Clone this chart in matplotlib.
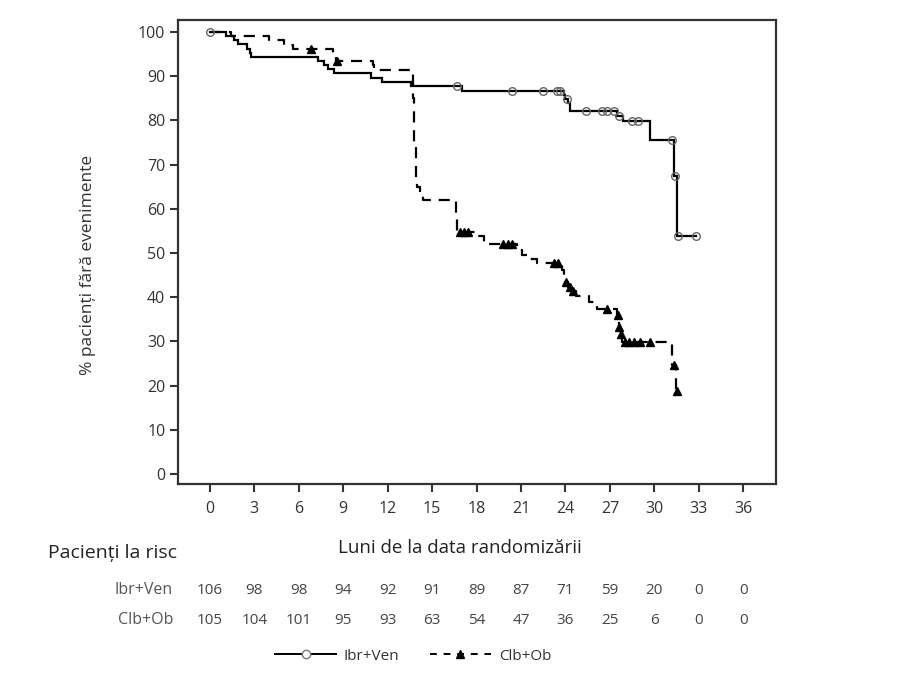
import numpy as np
import matplotlib.pyplot as plt
from matplotlib.lines import Line2D
from matplotlib.transforms import blended_transform_factory

plt.rcParams['font.family'] = ['Open Sans', 'DejaVu Sans']

# Ibr+Ven: event times (months) and survival (%) after each step
ibr_times = [0, 1.1, 1.6, 1.9, 2.5, 2.7, 2.8, 7.3, 7.7, 8.0, 8.4, 10.9, 11.6,
             13.6, 17.0, 23.9, 24.0, 24.2, 24.3, 27.5, 27.9, 29.7, 31.3, 31.5]
ibr_surv = [100, 99.1, 98.1, 97.2, 96.2, 95.3, 94.3, 93.4, 92.5, 91.5, 90.6, 89.6, 88.7,
            87.7, 86.7, 85.8, 84.8, 83.8, 82.0, 81.0, 79.8, 75.6, 67.3, 53.8]
ibr_end = 32.8
ibr_censor = [0, 16.7, 20.4, 22.5, 23.4, 23.6, 24.1, 25.4, 26.5, 26.8, 27.3, 27.6,
              28.5, 28.9, 31.2, 31.4, 31.6, 32.8]

# Clb+Ob
clb_times = [0, 1.4, 4.0, 5.0, 5.6, 8.3, 8.4, 8.5, 11.0, 11.1, 13.7, 13.8, 13.9,
             14.0, 14.2, 14.4, 16.6, 16.7, 18.1, 18.5, 20.7, 21.1, 21.6, 22.1, 23.8,
             23.9, 24.0, 24.2, 24.4, 24.7, 25.6, 26.1, 27.5, 27.55, 27.6, 27.7, 27.8,
             31.2, 31.45]
clb_surv = [100, 99.0, 98.1, 97.1, 96.2, 95.2, 94.3, 93.3, 92.4, 91.4, 85.0, 75.0, 67.0,
            65.0, 63.1, 62.0, 58.0, 54.8, 53.8, 52.0, 50.6, 49.6, 48.7, 47.7, 46.2,
            44.6, 43.5, 42.4, 41.4, 40.2, 39.0, 37.3, 36.0, 34.6, 33.2, 31.6, 29.9,
            24.7, 18.9]
clb_end = 31.5
clb_censor = [6.8, 8.6, 16.9, 17.15, 17.4, 19.8, 20.1, 20.4, 23.2, 23.5, 24.05, 24.3,
              24.5, 26.8, 27.52, 27.62, 27.72, 28.0, 28.3, 28.6, 29.0, 29.7, 31.3, 31.5]

months = [0, 3, 6, 9, 12, 15, 18, 21, 24, 27, 30, 33, 36]
risk_ibr = [106, 98, 98, 94, 92, 91, 89, 87, 71, 59, 20, 0, 0]
risk_clb = [105, 104, 101, 95, 93, 63, 54, 47, 36, 25, 6, 0, 0]


def surv_at(times, surv, t):
    idx = np.searchsorted(times, t, side='right') - 1
    return np.array(surv)[idx]


fig = plt.figure(figsize=(8.98, 6.85), dpi=100)
ax = fig.add_axes([0.198, 0.293, 0.666, 0.678])

# step curves
ax.step(ibr_times + [ibr_end], ibr_surv + [ibr_surv[-1]], where='post',
        color='black', lw=1.6, solid_joinstyle='miter')
ax.step(clb_times + [clb_end], clb_surv + [clb_surv[-1]], where='post',
        color='black', lw=1.6, linestyle=(0, (5, 3.5)))

# censor marks
ax.plot(ibr_censor, surv_at(ibr_times, ibr_surv, ibr_censor), 'o', ms=5.5,
        mfc='none', mec='#666666', mew=1.0)
ax.plot(clb_censor, surv_at(clb_times, clb_surv, clb_censor), '^', ms=5.5,
        color='black')

ax.set_xlim(-2.16, 38.2)
ax.set_ylim(-2.3, 102.7)
ax.set_xticks(months)
ax.set_yticks(range(0, 101, 10))
ax.tick_params(direction='out', length=6, width=1.5, colors='#333333',
               labelsize=11.5, pad=3)
ax.tick_params(axis='x', pad=6)
for sp in ax.spines.values():
    sp.set_linewidth(1.6)
    sp.set_color('#333333')

fig.text(88 / 898, 1 - 265 / 685, '% pacienți fără evenimente', rotation=90,
         ha='center', va='center', fontsize=12.5, color='#333333')
fig.text(460 / 898, 1 - 548 / 685, 'Luni de la data randomizării', ha='center',
         va='center', fontsize=13.5, color='#222222')
fig.text(48 / 898, 1 - 553 / 685, 'Pacienți la risc', ha='left', va='center',
         fontsize=14, color='#222222')

# numbers at risk
tr = blended_transform_factory(ax.transData, fig.transFigure)
y_ibr = 1 - 590 / 685
y_clb = 1 - 620 / 685
fig.text(173 / 898, y_ibr, 'Ibr+Ven', ha='right', va='center', fontsize=11.5, color='#555555')
fig.text(173 / 898, y_clb, 'Clb+Ob', ha='right', va='center', fontsize=11.5, color='#555555')
for m, a, b in zip(months, risk_ibr, risk_clb):
    ax.text(m, y_ibr, str(a), transform=tr, ha='center', va='center',
            fontsize=11, color='#444444')
    ax.text(m, y_clb, str(b), transform=tr, ha='center', va='center',
            fontsize=11, color='#444444')

# legend
handles = [
    Line2D([], [], color='black', lw=1.4, marker='o', ms=6, mfc='white',
           mec='#777777', label='Ibr+Ven'),
    Line2D([], [], color='black', lw=1.4, linestyle=(0, (3.5, 3.5)), marker='^',
           ms=6, mfc='black', mec='black', label='Clb+Ob'),
]
fig.legend(handles=handles, loc='center', bbox_to_anchor=(413 / 898, 1 - 656 / 685),
           ncol=2, frameon=False, fontsize=11, handlelength=4.0, columnspacing=2.0,
           handletextpad=0.5, labelcolor='#333333')

fig.savefig('out.png', dpi=100)
